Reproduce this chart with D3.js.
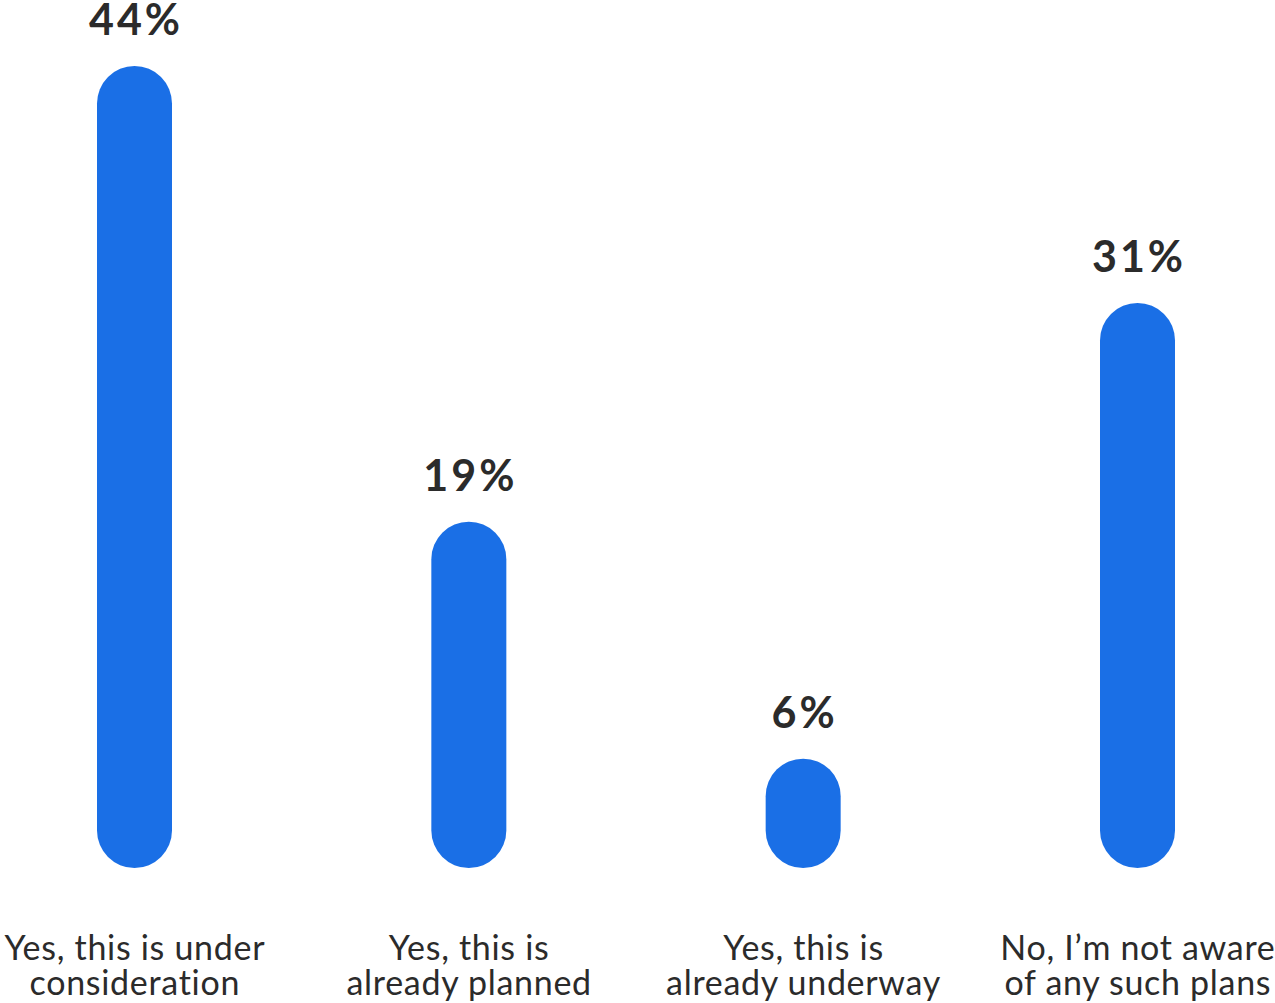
<!DOCTYPE html>
<html><head><meta charset="utf-8">
<script src="https://cdn.jsdelivr.net/npm/d3@7"></script>
<style>html,body{margin:0;padding:0;background:#fff;} text{font-variant-ligatures:none;font-feature-settings:"liga" 0;}</style>
</head><body>
<svg id="c" width="1275" height="1003"></svg>
<script>
const categories = ["Yes, this is under|consideration","Yes, this is|already planned","Yes, this is|already underway","No, I\u2019m not aware|of any such plans"];
const values = [44, 19, 6, 31];
const valueLabels = ["44%","19%","6%","31%"];

const W = 1275, H = 1003;
const svg = d3.select("#c");
const x = d3.scalePoint().domain(categories).range([134.5, 1137.5]);
const y = d3.scaleLinear().domain([0, 44]).range([868, 66]);
const bw = 75;
const font = "Lato, 'Open Sans', sans-serif";

svg.selectAll("rect.bar").data(values).join("rect")
  .attr("class","bar")
  .attr("x",(d,i)=>x(categories[i])-bw/2)
  .attr("width",bw)
  .attr("y",d=>y(d))
  .attr("height",d=>y(0)-y(d))
  .attr("rx",bw/2).attr("ry",bw/2)
  .attr("fill","#1a6fe6");

svg.selectAll("text.val").data(values).join("text")
  .attr("class","val")
  .attr("x",(d,i)=>x(categories[i])+1.5)
  .attr("y",d=>y(d)-31)
  .attr("text-anchor","middle")
  .attr("font-family",font).attr("font-weight",700).attr("font-size",43)
  .attr("letter-spacing",3)
  .attr("fill","#2b2b2b")
  .text((d,i)=>valueLabels[i]);

const cl = svg.selectAll("text.cat").data(categories).join("text")
  .attr("class","cat")
  .attr("x",d=>x(d))
  .attr("text-anchor","middle")
  .attr("font-family",font).attr("font-size",34)
  .attr("letter-spacing",0.7)
  .attr("fill","#2b2b2b");
cl.selectAll("tspan").data(d=>d.split("|").map(s=>({s,p:d}))).join("tspan")
  .attr("x",d=>x(d.p)+0.35)
  .attr("y",(d,i)=>960+i*35)
  .text(d=>d.s);
</script>
</body></html>
